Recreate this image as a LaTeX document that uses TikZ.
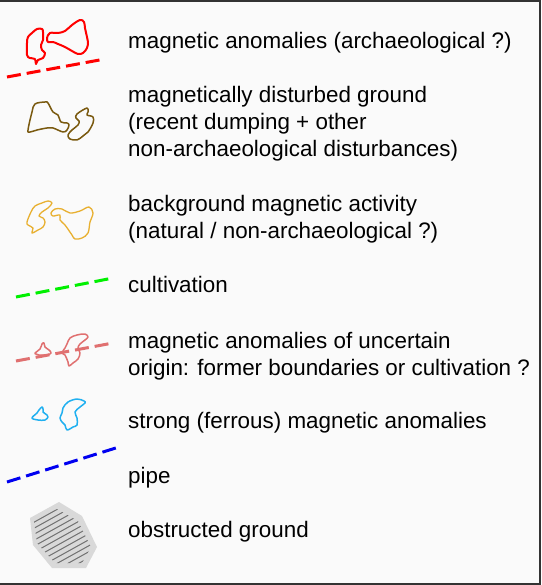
\documentclass[tikz,border=0pt]{standalone}
\usepackage{fontspec}
\setmainfont{Liberation Sans}
\definecolor{bg}{HTML}{FAFAFA}
\definecolor{frame}{HTML}{333333}
\definecolor{anored}{HTML}{FF0000}
\definecolor{brownish}{HTML}{7A5A10}
\definecolor{yellowish}{HTML}{E8B030}
\definecolor{greenish}{HTML}{00F000}
\definecolor{pinkish}{HTML}{E07070}
\definecolor{cyanish}{HTML}{20B0F0}
\definecolor{pipeblue}{HTML}{0000F0}
\definecolor{obsfill}{HTML}{D9D9D9}
\definecolor{hatch}{HTML}{707070}
\tikzset{
  lbl/.style={anchor=base west, inner sep=0pt, text=black, font=\fontsize{22.4}{26}\selectfont},
  blob/.style={line width=1.5pt, line join=round},
  dashline/.style={line width=3pt, dash pattern=on 14pt off 6pt},
}
\begin{document}
\begin{tikzpicture}[x=1pt,y=-1pt]
\useasboundingbox (0,0) rectangle (541,585);
\fill[bg] (0,0) rectangle (541,585);
\draw[frame, line width=2pt] (0,1.5) -- (539.5,1.5) -- (539.5,583.5) -- (0,583.5);

% 1 red anomalies
\draw[blob, anored, line width=2pt] plot[smooth cycle, tension=0.6] coordinates {(32,33) (37,29) (42,29) (43,32) (43,40) (41,45) (42,50) (45,53) (43,58) (38,60) (36,64) (35,59) (30,58) (27,55) (27,43) (28,37)};
\draw[blob, anored, line width=2pt] plot[smooth cycle, tension=0.6] coordinates {(50,33) (58,33) (65,31) (72,25) (80,20) (84,22) (85,28) (87,37) (88,42) (87,48) (83,53) (78,54) (72,51) (65,47) (58,44) (53,42) (48,42) (47,38)};
\coordinate (r1) at (7,77); \coordinate (r2) at (105,59);
\draw[dashline, anored] (r1) -- (r2);

% 2 brown
\draw[blob, brownish] plot[smooth cycle, tension=0.6] coordinates {(28,130) (32,112) (35,104) (45,102) (48,103) (53,112) (58,115) (61,122) (67,123) (69,125) (67,130) (63,132) (53,128) (47,128) (37,130) (30,132)};
\draw[blob, brownish] plot[smooth cycle, tension=0.6] coordinates {(77,114) (87,108) (88,112) (87,115) (93,117) (93,123) (88,132) (83,136) (77,140) (70,139) (68,135) (72,130) (78,125) (79,121) (76,118)};

% 3 yellow
\draw[blob, yellowish, line width=1.3pt] plot[smooth cycle, tension=0.6] coordinates {(27,222) (31,212) (35,206) (42,203) (48,201) (52,203) (48,208) (42,212) (39,216) (43,218) (45,222) (43,227) (38,230) (32,233) (33,228) (28,225)};
\draw[blob, yellowish, line width=1.3pt] plot[smooth cycle, tension=0.6] coordinates {(51,213) (55,209) (62,209) (70,213) (80,211) (89,207) (93,213) (90,222) (88,233) (82,238) (75,239) (72,235) (65,225) (60,220) (60,215) (53,216)};

% 4 green
\coordinate (g1) at (16,297); \coordinate (g2) at (113,278);
\draw[dashline, greenish] (g1) -- (g2);

% 5 pink
\coordinate (p1) at (16,361); \coordinate (p2) at (113,343);
\draw[dashline, pinkish] (p1) -- (p2);
\draw[blob, pinkish] plot[smooth cycle, tension=0.6] coordinates {(35,353) (40,349) (42,344) (44,343) (45,347) (49,350) (51,353) (47,355) (39,355) (36,354)};
\draw[blob, pinkish] plot[smooth cycle, tension=0.6] coordinates {(70,338) (77,335) (85,334) (88,337) (85,340) (80,344) (78,348) (80,353) (78,359) (73,363) (69,366) (68,362) (65,355) (62,353) (65,348) (67,344)};

% 6 cyan
\draw[blob, cyanish] plot[smooth cycle, tension=0.6] coordinates {(32,418) (37,413) (39,410) (42,407) (43,409) (43,412) (47,415) (48,417) (45,420) (38,420)};
\draw[blob, cyanish] plot[smooth cycle, tension=0.6] coordinates {(63,408) (68,402) (77,399) (84,401) (85,403) (80,407) (75,412) (77,418) (77,425) (73,427) (67,430) (65,425) (62,422) (60,418) (62,413)};

% 7 pipe
\coordinate (b1) at (7,482); \coordinate (b2) at (119,447);
\draw[dashline, pipeblue] (b1) -- (b2);

% 8 obstructed
\fill[obsfill] (30,518) -- (59,502) -- (82,516) -- (97,547) -- (86,568) -- (52,568) -- (33,545) -- cycle;
\begin{scope}
  \clip (34,521) -- (57,509) -- (78,521) -- (91,547) -- (82,563) -- (55,563) -- (37,543) -- cycle;
  \foreach \k in {0,...,12} {
    \draw[hatch, line width=1pt] (20,{530+6*\k}) -- (110,{530+6*\k-50});
  }
\end{scope}

% labels
\node[lbl] (t1) at (128,48.5) {magnetic anomalies (archaeological ?)};
\node[lbl] (t2a) at (128,102.5) {magnetically disturbed ground};
\node[lbl] (t2b) at (128,129.5) {(recent dumping + other};
\node[lbl] (t2c) at (128,156.5) {non-archaeological disturbances)};
\node[lbl] (t3a) at (128,211.5) {background magnetic activity};
\node[lbl] (t3b) at (128,238.5) {(natural / non-archaeological ?)};
\node[lbl] (t4) at (128,292.5) {cultivation};
\node[lbl] (t5a) at (128,348) {magnetic anomalies of uncertain};
\node[lbl] (t5b) at (128,375) {origin: former boundaries or cultivation ?};
\node[lbl] (t6) at (128,428.5) {strong (ferrous) magnetic anomalies};
\node[lbl] (t7) at (128,483.5) {pipe};
\node[lbl] (t8) at (128,537.5) {obstructed ground};
\end{tikzpicture}
\end{document}
